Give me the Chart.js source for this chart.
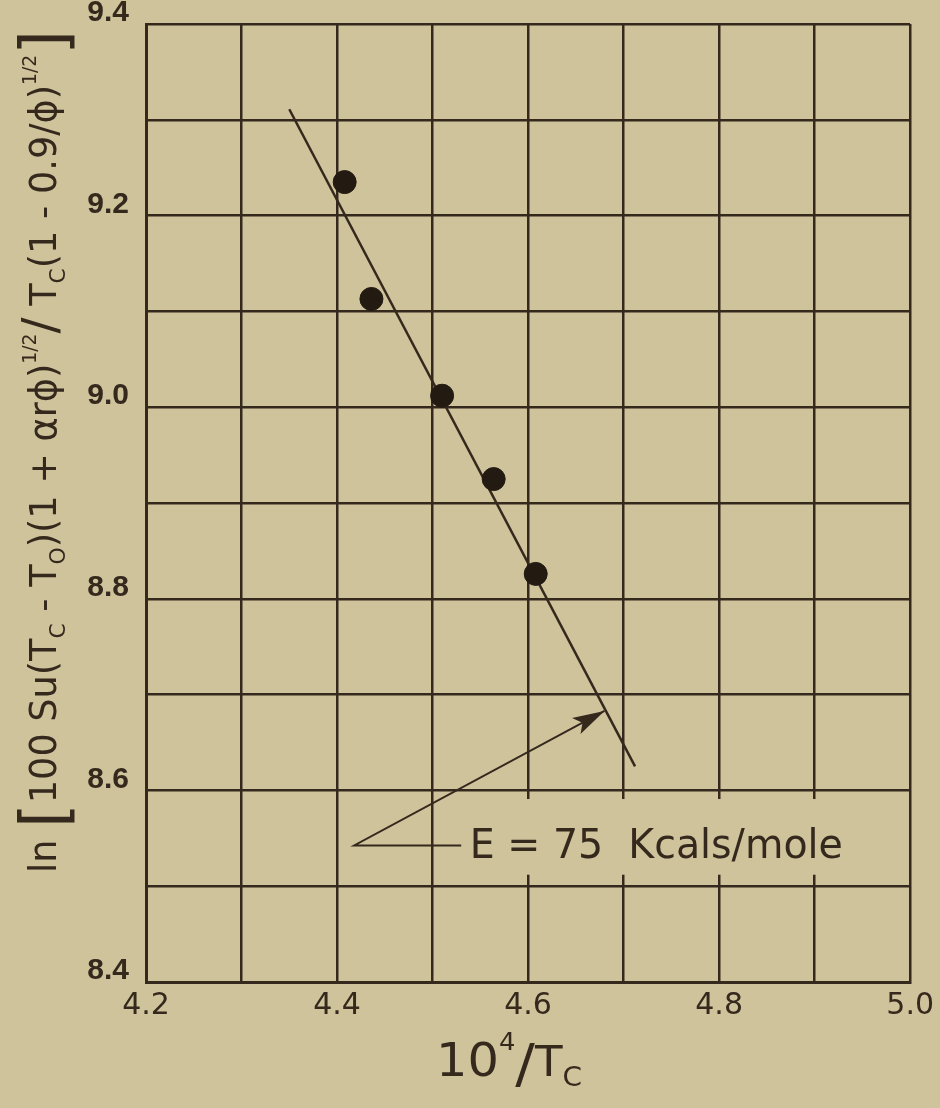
<!DOCTYPE html>
<html>
<head>
<meta charset="utf-8">
<script src="https://cdn.jsdelivr.net/npm/chart.js@4/dist/chart.umd.min.js"></script>
<style>
  html, body { margin: 0; padding: 0; background: #cfc39c; }
  #wrap { width: 940px; height: 1108px; }
</style>
</head>
<body>
<div id="wrap"><canvas id="ctx" width="940" height="1108"></canvas></div>
<script>
const xValues = [4.408, 4.436, 4.510, 4.564, 4.608];
const yValues = [9.235, 9.113, 9.012, 8.925, 8.826];

// fitted straight line (two ends)
const fitX = [4.35, 4.712];
const fitY = [9.311, 8.625];

// leader for the label: horizontal end -> vertex -> arrow tip on the line
const leaderX = [4.530, 4.418, 4.680];
const leaderY = [8.5425, 8.5425, 8.683];

const labelText = "E = 75  Kcals/mole";
const labelPos = [4.539, 8.5425];
const labelBox = [4.535, 8.591, 4.95, 8.512];

const xTickLabels = ["4.2", "4.4", "4.6", "4.8", "5.0"];
const yTickLabels = ["8.4", "8.6", "8.8", "9.0", "9.2", "9.4"];

const ink = "#35291d";
const paper = "#cfc39c";
const font = "'DejaVu Sans', sans-serif";

// draws a run of text pieces: [text, size, dy]
function drawPieces(ctx, pieces, targetLen) {
  let total = 0;
  pieces.forEach((p) => {
    ctx.font = p[1] + "px " + font;
    p.w = ctx.measureText(p[0]).width;
    total += p.w;
  });
  const k = targetLen ? targetLen / total : 1;
  ctx.scale(k, 1);
  let x = 0;
  pieces.forEach((p) => {
    ctx.font = p[1] + "px " + font;
    ctx.fillText(p[0], x, p[2]);
    x += p.w;
  });
  return total * k;
}

const paperPlugin = {
  id: "paper",
  beforeDraw(chart) {
    const c = chart.ctx;
    c.save();
    c.fillStyle = paper;
    c.fillRect(0, 0, chart.width, chart.height);
    c.restore();
  },
  beforeDatasetsDraw(chart) {
    // blank strip behind the label
    const c = chart.ctx;
    const xs = chart.scales.x, ys = chart.scales.y;
    const x0 = xs.getPixelForValue(labelBox[0]);
    const y0 = ys.getPixelForValue(labelBox[1]);
    const x1 = xs.getPixelForValue(labelBox[2]);
    const y1 = ys.getPixelForValue(labelBox[3]);
    c.save();
    c.fillStyle = paper;
    c.fillRect(x0, y0, x1 - x0, y1 - y0);
    c.restore();
  },
  afterDatasetsDraw(chart) {
    const c = chart.ctx;
    const xs = chart.scales.x, ys = chart.scales.y;
    c.save();
    c.fillStyle = ink;
    c.strokeStyle = ink;

    // arrow head at the tip of the leader
    const bx = xs.getPixelForValue(leaderX[1]), by = ys.getPixelForValue(leaderY[1]);
    const tx = xs.getPixelForValue(leaderX[2]), ty = ys.getPixelForValue(leaderY[2]);
    const a = Math.atan2(ty - by, tx - bx);
    c.translate(tx, ty);
    c.rotate(a);
    c.beginPath();
    c.moveTo(0, 0);
    c.lineTo(-32, -9);
    c.lineTo(-25, 0);
    c.lineTo(-32, 9);
    c.closePath();
    c.fill();
    c.setTransform(1, 0, 0, 1, 0, 0);

    // label
    c.textBaseline = "middle";
    c.font = "40px " + font;
    const lx = xs.getPixelForValue(labelPos[0]);
    const ly = ys.getPixelForValue(labelPos[1]);
    const w = c.measureText(labelText).width;
    c.translate(lx, ly);
    c.scale(373 / w, 1);
    c.fillText(labelText, 0, 2);
    c.restore();
  },
  afterDraw(chart) {
    const c = chart.ctx;
    c.save();
    c.fillStyle = ink;
    c.textBaseline = "alphabetic";

    // y axis title, reads bottom to top
    c.translate(56, 873);
    c.rotate(-Math.PI / 2);
    drawPieces(c, [
      ["ln ", 37, 0],
      ["[", 64, 10],
      ["100 Su(T", 37, 0],
      ["C", 22, 9],
      [" - T", 37, 0],
      ["O", 22, 9],
      [")(1 + αrϕ)", 37, 0],
      ["1/2", 19, -20],
      ["/", 48, 0],
      [" T", 37, 0],
      ["C", 22, 9],
      ["(1 - 0.9/ϕ)", 37, 0],
      ["1/2", 19, -20],
      ["]", 64, 10],
    ], 843);
    c.setTransform(1, 0, 0, 1, 0, 0);

    // x axis title
    c.translate(436, 1076);
    drawPieces(c, [
      ["10", 46, 0],
      ["4", 24, -26],
      ["/", 54, 6],
      ["T", 42, 0],
      ["C", 26, 10],
    ], 146);
    c.restore();
  },
};

new Chart(document.getElementById("ctx"), {
  type: "scatter",
  data: {
    datasets: [
      {
        label: "data",
        data: xValues.map((x, i) => ({ x: x, y: yValues[i] })),
        backgroundColor: "#231a12",
        borderColor: "#231a12",
        pointRadius: 11.5,
        pointHoverRadius: 11.5,
        showLine: false,
      },
      {
        label: "fit",
        type: "line",
        data: fitX.map((x, i) => ({ x: x, y: fitY[i] })),
        borderColor: ink,
        borderWidth: 2.5,
        pointRadius: 0,
        tension: 0,
      },
      {
        label: "leader",
        type: "line",
        data: leaderX.map((x, i) => ({ x: x, y: leaderY[i] })),
        borderColor: ink,
        borderWidth: 2,
        pointRadius: 0,
        tension: 0,
      },
    ],
  },
  options: {
    responsive: false,
    animation: false,
    events: [],
    layout: { padding: { left: 0, right: 28, top: 24, bottom: 0 } },
    plugins: { legend: { display: false }, tooltip: { enabled: false } },
    scales: {
      x: {
        type: "linear",
        min: 4.2,
        max: 5.0,
        border: { color: ink, width: 3 },
        grid: { color: ink, lineWidth: 2.5, drawTicks: false },
        ticks: {
          stepSize: 0.1,
          color: ink,
          padding: 6,
          autoSkip: false,
          maxRotation: 0,
          font: { family: font, size: 30 },
          callback: (v) => {
            const s = Number(v).toFixed(1);
            return xTickLabels.includes(s) ? s : "";
          },
        },
        afterFit: (s) => { s.height = 126; },
      },
      y: {
        type: "linear",
        min: 8.4,
        max: 9.4,
        border: { color: ink, width: 3 },
        grid: { color: ink, lineWidth: 2.5, drawTicks: false },
        ticks: {
          stepSize: 0.1,
          color: ink,
          padding: 17,
          autoSkip: false,
          labelOffset: -11,
          font: { family: "'Liberation Sans', sans-serif", size: 30, weight: "bold" },
          callback: (v) => {
            const s = Number(v).toFixed(1);
            return yTickLabels.includes(s) ? s : "";
          },
        },
        afterFit: (s) => {
          s.width = 146;
          s.paddingTop = 0;
          s.paddingBottom = 0;
        },
      },
    },
  },
  plugins: [paperPlugin],
});
</script>
</body>
</html>
